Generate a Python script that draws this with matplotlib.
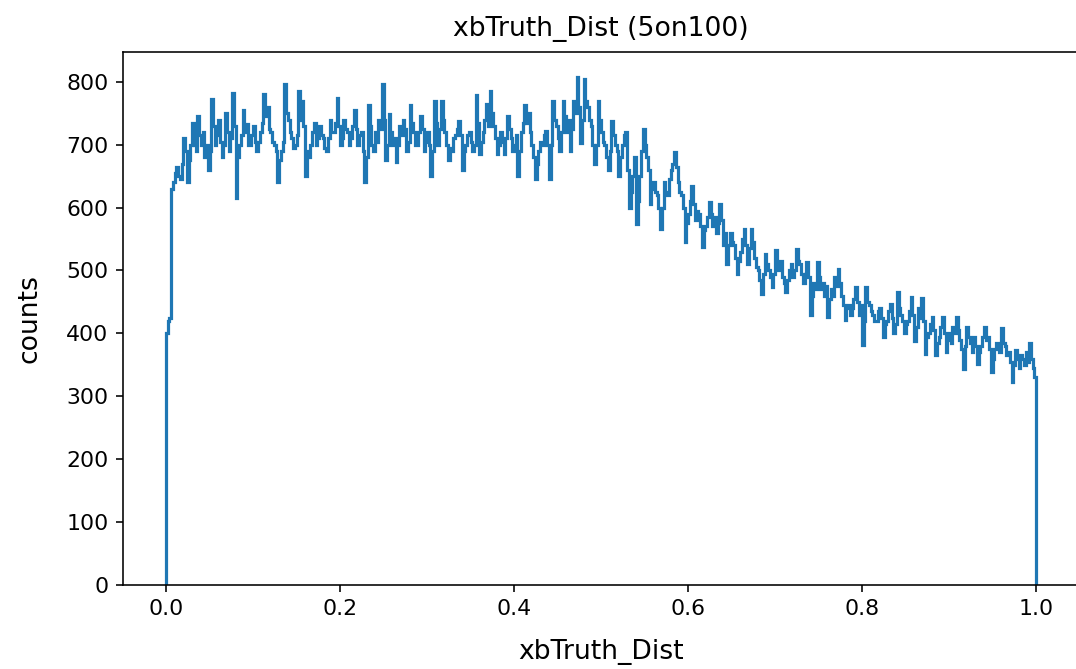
import numpy as np
import matplotlib
matplotlib.use('Agg')
import matplotlib.pyplot as plt

# bin edges of the histogram: 500 bins over [0, 1]
n_bins = 500
edges = np.linspace(0.0, 1.0, n_bins + 1)

# counts per bin (x 0.0 -> 1.0)
counts_a = [400, 420, 425, 630, 640, 655, 665, 650, 645, 670,
            710, 690, 640, 675, 700, 735, 700, 690, 745, 715,
            700, 720, 680, 700, 659, 690, 772, 730, 700, 715,
            740, 705, 680, 700, 750, 720, 690, 710, 782, 730,
            616, 680, 700, 715, 755, 720, 733, 700]
counts_b = [700, 715, 730, 705, 690, 705, 720, 735, 780, 745,
            760, 725, 720, 705, 700, 690, 640, 675, 690, 705,
            797, 750, 740, 720, 710, 695, 700, 715, 785, 740,
            770, 730, 650, 690, 680, 700, 720, 735, 700, 710,
            730, 715, 710, 695, 690, 710, 740, 720, 720, 735,
            775, 730, 700, 710, 740, 725, 720, 700, 710, 730]
counts_c = [755, 725, 700, 715, 720, 690, 640, 680, 763, 730,
            700, 690, 720, 705, 740, 725, 797, 740, 675, 700,
            748, 720, 700, 710, 672, 700, 730, 715, 740, 725,
            690, 705, 763, 735, 720, 700, 700, 720, 745, 725,
            690, 705, 720, 700, 650, 690, 770, 735, 700, 725,
            770, 740, 720, 700]
counts_d = [675, 695, 690, 710, 715, 725, 738, 715, 659, 690,
            700, 715, 720, 705, 690, 700, 779, 735, 685, 705,
            720, 740, 765, 730, 785, 750, 730, 710, 685, 700,
            720, 705, 685, 710, 745, 725, 710, 690, 700, 715,
            650, 690, 720, 735, 763, 735, 750, 720, 700, 680,
            645, 670, 690, 705]
counts_e = [700, 715, 722, 700, 645, 700, 770, 740, 730, 710,
            690, 720, 770, 745, 720, 740, 690, 725, 770, 750,
            807, 760, 703, 740, 805, 770, 760, 740, 730, 700,
            670, 700, 770, 740, 720, 705, 700, 680, 659, 690,
            738, 715, 700, 690, 650, 680, 700, 715, 720, 660,
            600, 625, 650, 680]
counts_f = [574, 610, 650, 690, 725, 700, 680, 660, 605, 630,
            640, 625, 620, 600, 566, 600, 640, 625, 620, 645,
            660, 670, 688, 665, 640, 625, 620, 600, 545, 575,
            590, 610, 635, 605, 580, 595, 590, 570, 537, 565,
            570, 585, 609, 590, 570, 585, 560, 575, 605, 580,
            540, 560, 510, 540, 560, 545]
counts_g = [540, 520, 495, 515, 530, 550, 566, 540, 510, 535,
            566, 545, 520, 505, 500, 485, 463, 495, 527, 510,
            500, 490, 473, 495, 532, 510, 500, 515, 490, 480,
            466, 485, 500, 510, 490, 500, 534, 515, 510, 495,
            480, 495, 513, 490, 429, 460, 480, 470, 513, 490,
            470, 480, 460, 475]
counts_h = [426, 455, 470, 460, 490, 475, 502, 480, 460, 445,
            421, 440, 445, 430, 440, 455, 474, 450, 430, 445,
            381, 420, 474, 450, 445, 435, 430, 420, 420, 435,
            440, 425, 394, 415, 420, 435, 447, 425, 400, 415,
            466, 440, 430, 420, 400, 415, 420, 435, 458, 430,
            388, 410, 440, 425]
counts_i = [457, 420, 368, 395, 400, 415, 426, 405, 365, 385,
            395, 410, 426, 400, 370, 390, 400, 385, 410, 400,
            426, 405, 390, 375, 344, 380, 410, 395, 385, 370,
            395, 380, 352, 370, 380, 395, 410, 390, 395, 375,
            339, 360, 375, 385, 385, 370, 408, 385, 380, 365,
            370, 355, 323, 350, 374, 360, 345, 365, 360, 350,
            370, 355, 384, 360, 345, 330]

counts = np.array(counts_a + counts_b + counts_c + counts_d + counts_e
                  + counts_f + counts_g + counts_h + counts_i, dtype=float)

fig = plt.figure(figsize=(1076 / 144, 669 / 144), dpi=144)
# axes run past the right edge of the picture, as in the reference
ax = fig.add_axes([122.5 / 1076, 84 / 669, 957 / 1076, 533 / 669])

ax.hist(edges[:-1], bins=edges, weights=counts, histtype='step', color='#1f77b4', linewidth=1.6)
ax.set_title('xbTruth_Dist (5on100)', fontsize=13.3, pad=8)
ax.set_xlabel('xbTruth_Dist', fontsize=13.3, labelpad=10)
ax.set_ylabel('counts', fontsize=13.3, labelpad=12)
ax.tick_params(labelsize=11)

fig.savefig('out.png', dpi=144)
